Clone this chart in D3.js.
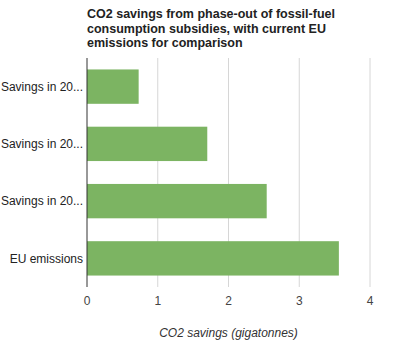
<!DOCTYPE html>
<html>
<head>
<meta charset="utf-8">
<script src="https://cdn.jsdelivr.net/npm/d3@7"></script>
<style>
  body { margin: 0; background: #fff; }
  svg { font-family: "Liberation Sans", Arial, sans-serif; }
</style>
</head>
<body>
<div id="chart"></div>
<script>
// Chart data
const categories = ['Savings in 20...', 'Savings in 20...', 'Savings in 20...', 'EU emissions'];
const savings = [0.73, 1.70, 2.54, 3.56];
const xTicks = [0, 1, 2, 3, 4];
const titleLines = [
    'CO2 savings from phase-out of fossil-fuel',
    'consumption subsidies, with current EU',
    'emissions for comparison'
];
const xTitle = 'CO2 savings (gigatonnes)';

const W = 404, H = 350;
const margin = {top: 58, right: 34, bottom: 63, left: 87};
const width = W - margin.left - margin.right;
const height = H - margin.top - margin.bottom;

const svg = d3.select('#chart')
    .append('svg')
    .attr('width', W)
    .attr('height', H);

// Title
svg.append('text')
    .attr('x', margin.left)
    .attr('y', 18)
    .attr('font-size', 12.5)
    .attr('font-weight', 'bold')
    .attr('fill', '#222')
    .selectAll('tspan')
    .data(titleLines)
    .join('tspan')
    .attr('x', margin.left)
    .attr('dy', (d, i) => i === 0 ? 0 : 14.5)
    .text(d => d);

const g = svg.append('g')
    .attr('transform', `translate(${margin.left},${margin.top})`);

const x = d3.scaleLinear()
    .domain([0, 4])
    .range([0, width]);

const y = d3.scaleBand()
    .domain(d3.range(categories.length))
    .range([0, height])
    .paddingInner(0.4)
    .paddingOuter(0.2);

// Gridlines
g.selectAll('.grid')
    .data(xTicks.slice(1))
    .join('line')
    .attr('class', 'grid')
    .attr('x1', d => x(d))
    .attr('x2', d => x(d))
    .attr('y1', 0)
    .attr('y2', height)
    .attr('stroke', '#d6d6d6')
    .attr('stroke-width', 1);

// Bars
g.selectAll('.bar')
    .data(savings)
    .join('rect')
    .attr('class', 'bar')
    .attr('x', x(0))
    .attr('y', (d, i) => y(i))
    .attr('width', d => x(d) - x(0))
    .attr('height', y.bandwidth())
    .attr('fill', '#7cb462');

// Zero axis line
g.append('line')
    .attr('x1', x(0))
    .attr('x2', x(0))
    .attr('y1', 0)
    .attr('y2', height)
    .attr('stroke', '#333')
    .attr('stroke-width', 1);

// Category labels
g.selectAll('.cat')
    .data(categories)
    .join('text')
    .attr('class', 'cat')
    .attr('x', -4)
    .attr('y', (d, i) => y(i) + y.bandwidth() / 2)
    .attr('dy', '0.35em')
    .attr('text-anchor', 'end')
    .attr('font-size', 12)
    .attr('fill', '#222')
    .text(d => d);

// X tick labels
g.selectAll('.tick-label')
    .data(xTicks)
    .join('text')
    .attr('class', 'tick-label')
    .attr('x', d => x(d))
    .attr('y', height + 18)
    .attr('text-anchor', 'middle')
    .attr('font-size', 12)
    .attr('fill', '#444')
    .text(d => d);

// X axis title
g.append('text')
    .attr('x', x(2))
    .attr('y', height + 50)
    .attr('text-anchor', 'middle')
    .attr('font-size', 12)
    .attr('font-style', 'italic')
    .attr('fill', '#333')
    .text(xTitle);
</script>
</body>
</html>
